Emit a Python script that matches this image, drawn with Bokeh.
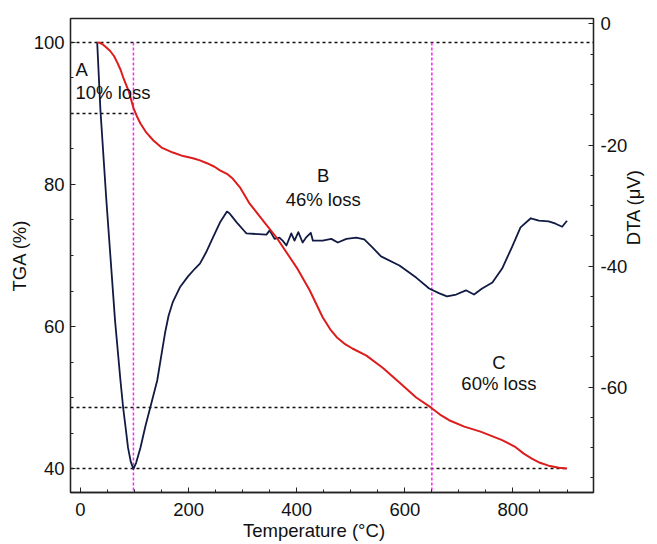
import math
from bokeh.plotting import figure
from bokeh.models import Range1d, LinearAxis, FixedTicker
from bokeh.core.properties import value
from bokeh.embed import file_html
from bokeh.resources import INLINE

# ---- data ----
tga_temp = [31, 36, 42, 48, 55, 62, 68, 74, 79, 89, 98, 105, 111, 122, 135, 150, 171, 190, 208, 221,
            234, 248, 258, 271, 282, 295, 313, 341, 363, 385, 400, 424, 448, 462, 474, 488, 503, 529,
            559, 590, 621, 648, 665, 682, 710, 740, 780, 805, 820, 835, 850, 866, 885, 900]
tga_val = [100, 99.95, 99.7, 99.3, 98.8, 98.1, 97.2, 96.2, 95.1, 93.2, 90.8, 89.5, 88.6, 87.3, 86.2,
           85.2, 84.5, 84.0, 83.7, 83.4, 83.0, 82.5, 82.0, 81.5, 80.8, 79.6, 77.3, 74.6, 72.5, 70.0,
           68.3, 65.1, 61.3, 59.6, 58.5, 57.6, 56.9, 55.9, 54.2, 52.1, 50.0, 48.6, 47.6, 46.8, 45.9,
           45.2, 44.0, 43.0, 42.1, 41.4, 40.8, 40.4, 40.1, 40.0]

dta_temp = [31, 37, 48, 64, 74, 79, 84, 88, 93, 98, 103, 111, 120, 129, 142, 151, 157, 163, 171, 184,
            199, 212, 221, 232, 245, 258, 271, 276, 282, 291, 301, 307, 344, 350, 359, 368, 374, 381,
            390, 396, 403, 411, 418, 426, 430, 448, 464, 476, 492, 510, 525, 540, 556, 590, 621, 645,
            664, 678, 695, 713, 728, 743, 762, 780, 798, 814, 833, 848, 866, 879, 891, 900]
dta_val = [-3.1, -14.3, -29.2, -49, -58.9, -63.4, -67, -70, -72.3, -73.5, -72.5, -70, -66.5, -63.4,
           -58.9, -54, -50.8, -48.2, -45.9, -43.5, -41.7, -40.4, -39.6, -37.8, -35.3, -32.8, -31,
           -31.3, -32, -33, -34, -34.6, -34.8, -34.1, -35.5, -35.3, -35.8, -36.6, -34.6, -35.8,
           -34.4, -36.1, -35.2, -34.5, -35.8, -35.8, -35.5, -36.1, -35.5, -35.3, -35.6, -36.9,
           -38.4, -39.9, -41.9, -43.7, -44.5, -45, -44.7, -44, -44.7, -43.7, -42.7, -40.4, -36.9,
           -33.6, -32.1, -32.5, -32.6, -33, -33.5, -32.5]

# reference guide lines (TGA level, temperature where the dotted guide ends)
guide_level = [100, 90, 48.6, 40]
guide_end_temp = [949, 98, 650, 900]
stage_temp = [98, 650]          # magenta stage boundaries

# stage annotations
stage_letters = ["A", "B", "C"]
stage_losses = ["10% loss", "46% loss", "60% loss"]

x_ticks = [0, 200, 400, 600, 800]
x_minor = list(range(0, 951, 50))
tga_ticks = [40, 60, 80, 100]
tga_minor = list(range(40, 101, 5))
dta_ticks = [-60, -40, -20, 0]
dta_tick_labels = ["-60", "-40", "-20", "0"]
dta_minor = list(range(-75, 1, 5))

X0, X1 = -18.4, 949
Y0, Y1 = 36.62, 103.38
FONT = "Liberation Sans"
FS = "18.5px"

p = figure(width=657, height=544, x_range=Range1d(X0, X1), y_range=Range1d(Y0, Y1),
           output_backend="svg", toolbar_location=None,
           min_border_left=70, min_border_right=62, min_border_top=18, min_border_bottom=52)
p.extra_y_ranges = {"dta": Range1d(-77.4, 0.9)}
p.xgrid.visible = False
p.ygrid.visible = False
p.outline_line_color = "#222222"
p.outline_line_width = 1.3
p.background_fill_color = "white"
p.border_fill_color = "white"

# guides
p.segment(x0=[X0] * len(guide_level), y0=guide_level, x1=guide_end_temp, y1=guide_level,
          line_color="#111111", line_width=1.4, line_dash="3 3")
p.segment(x0=stage_temp, y0=[100, 100], x1=stage_temp, y1=[Y0, Y0],
          line_color="#ff22ff", line_width=1.5, line_dash="3 2")

# curves
p.line(dta_temp, dta_val, y_range_name="dta", line_color="#101a42", line_width=1.8,
       line_join="round")
p.line(tga_temp, tga_val, line_color="#dd1c1c", line_width=2.0, line_join="round")

# annotations
ann_x = [-9.2, 449, 774]
ann_y1 = [96.2, 81.27, 54.93]
ann_y2 = [92.96, 77.9, 51.97]
aligns = ["left", "center", "center"]
for i in range(3):
    p.text(x=[ann_x[i]], y=[ann_y1[i]], text=[stage_letters[i]], text_align=aligns[i],
           text_baseline="alphabetic", text_font=value(FONT), text_font_size=FS, text_color="#111111")
    p.text(x=[ann_x[i]], y=[ann_y2[i]], text=[stage_losses[i]], text_align=aligns[i],
           text_baseline="alphabetic", text_font=value(FONT), text_font_size=FS, text_color="#111111")

def style(ax, ticks, minor):
    ax.ticker = FixedTicker(ticks=ticks, minor_ticks=minor)
    ax.major_tick_in = 5
    ax.major_tick_out = 0
    ax.minor_tick_in = 3
    ax.minor_tick_out = 0
    ax.axis_line_color = "#222222"
    ax.major_tick_line_color = "#222222"
    ax.minor_tick_line_color = "#222222"
    ax.axis_line_width = 1.3
    ax.major_label_text_font = FONT
    ax.major_label_text_font_size = FS
    ax.major_label_text_color = "#111111"
    ax.axis_label_text_font = FONT
    ax.axis_label_text_font_size = FS
    ax.axis_label_text_font_style = "normal"
    ax.axis_label_text_color = "#111111"

xa = p.xaxis[0]
style(xa, x_ticks, x_minor)
xa.axis_label = "Temperature (°C)" + "\u00a0" * 7
xa.major_label_standoff = 10
xa.axis_label_standoff = 1

ya = p.yaxis[0]
style(ya, tga_ticks, tga_minor)
ya.axis_label = "TGA (%)"
ya.major_label_standoff = 6
ya.axis_label_standoff = 1

ra = LinearAxis(y_range_name="dta")
style(ra, dta_ticks, dta_minor)
ra.major_label_overrides = dict(zip(dta_ticks, dta_tick_labels))
ra.axis_label = "\u00a0" * 2 + "DTA (μV)"
ra.axis_label_orientation = math.pi / 2
ra.axis_label_text_baseline = "top"
ra.major_label_standoff = 7
ra.axis_label_standoff = 3
p.add_layout(ra, "right")

open("out.html", "w").write(file_html(p, INLINE))
